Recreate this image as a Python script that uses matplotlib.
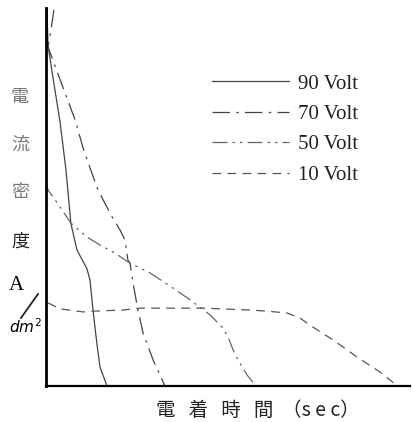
import matplotlib
matplotlib.use('Agg')
import matplotlib.pyplot as plt
from matplotlib.lines import Line2D

# time (sec, arbitrary scale) vs current density (A/dm2, arbitrary)
t_90 = [0.3, 0.66, 3.0, 4.6, 6.6, 8.2, 10.2, 13.5, 14.5, 15.5, 16.8, 17.8, 20.1]
i_90 = [10.0, 9.0, 7.8, 7.0, 5.7, 4.3, 3.6, 3.1, 2.8, 2.0, 1.1, 0.5, 0.0]

t_70 = [2.6, 1.6, 0.66, 5.9, 9.6, 12.2, 13.8, 17.1, 21.8, 24.4, 26.0, 27.0, 27.7,
        28.7, 30.3, 32.0, 35.3, 39.2]
i_70 = [9.95, 9.4, 8.97, 7.83, 7.04, 6.3, 5.93, 5.19, 4.47, 4.13, 3.86, 3.33, 3.25,
        2.72, 2.01, 1.40, 0.69, 0.0]

t_50 = [0.0, 0.66, 4.6, 8.2, 13.5, 17.8, 22.7, 27.0, 34.3, 41.9, 47.5, 54.1, 56.4,
        58.0, 60.0, 61.7, 63.3, 66.3, 69.2]
i_50 = [5.37, 5.19, 4.74, 4.31, 3.94, 3.73, 3.52, 3.28, 2.99, 2.59, 2.28, 1.88, 1.69,
        1.56, 1.30, 0.95, 0.69, 0.29, 0.0]

t_10 = [0.66, 4.6, 12.2, 15.5, 25.4, 31.0, 43.2, 51.8, 67.3, 72.9, 79.5, 83.7, 87.0,
        94.6, 102.5, 110.1, 115.1]
i_10 = [2.20, 2.04, 1.96, 1.98, 2.01, 2.06, 2.06, 2.06, 2.01, 1.98, 1.93, 1.80, 1.61,
        1.22, 0.77, 0.37, 0.05]

labels = ['90 Volt', '70 Volt', '50 Volt', '10 Volt']

fig = plt.figure(figsize=(4.12, 4.22), dpi=100)
ax = fig.add_axes([0.1117, 0.0853, 0.8835, 0.8957])

ax.plot(t_90, i_90, color='#444444', lw=0.9, ls='-', label=labels[0])
ax.plot(t_70, i_70, color='#444444', lw=0.9, ls=(0, (14, 5, 2, 5)), label=labels[1])
ax.plot(t_50, i_50, color='#666666', lw=0.9, ls=(0, (12, 4, 2, 4, 2, 4)), label=labels[2])
ax.plot(t_10, i_10, color='#555555', lw=0.9, ls=(0, (7, 5)), label=labels[3])

ax.set_xlim(0, 120)
ax.set_ylim(0, 10)
ax.set_xticks([])
ax.set_yticks([])
ax.spines['top'].set_visible(False)
ax.spines['right'].set_visible(False)
ax.spines['left'].set_linewidth(2.0)
ax.spines['bottom'].set_linewidth(1.6)

leg = ax.legend(loc='upper left', bbox_to_anchor=(0.405, 0.875), frameon=False,
                handlelength=3.7, handletextpad=0.4, labelspacing=0.52,
                prop={'family': 'Liberation Serif', 'size': 15})
for txt in leg.get_texts():
    txt.set_color('#222222')

cjk = ['Noto Sans CJK JP', 'DejaVu Sans']
for ch, y, col in [('電', 97, '#777777'), ('流', 145, '#777777'),
                   ('密', 192, '#777777'), ('度', 242, '#222222')]:
    fig.text(20 / 412, 1 - y / 422, ch, family=cjk, fontsize=13, color=col,
             ha='center', va='center')

# A / dm^2 written as a slanted fraction
fig.text(16 / 412, 1 - 286 / 422, 'A', family='Liberation Serif', fontsize=15,
         ha='center', va='center')
fig.add_artist(Line2D([21 / 412, 38 / 412], [1 - 318 / 422, 1 - 294 / 422],
                      color='#222222', lw=1.3))
fig.text(25 / 412, 1 - 327 / 422, r'$dm^2$', fontsize=11, ha='center', va='center')

fig.text(258 / 412, 1 - 410 / 422, '電   着   時   間  （s e c）', family=cjk, fontsize=14,
         color='#222222', ha='center', va='center')

plt.savefig('out.png', dpi=100)
